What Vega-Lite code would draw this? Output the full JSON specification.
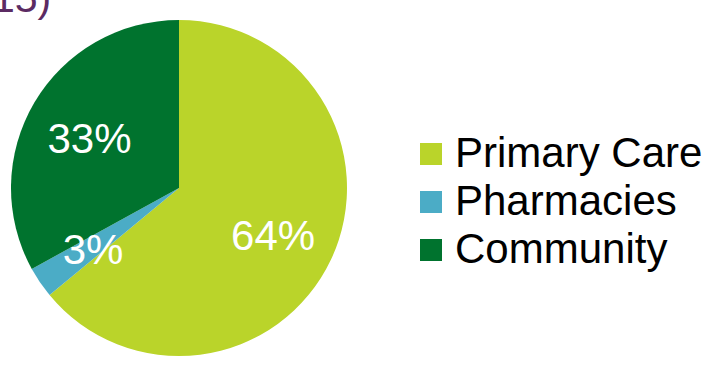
{
  "$schema": "https://vega.github.io/schema/vega-lite/v6.json",
  "width": 358,
  "height": 360,
  "autosize": {"type": "none"},
  "padding": {"left": 0, "top": 8, "right": 363, "bottom": 0},
  "background": "white",
  "title": {
    "text": "15)",
    "anchor": "start",
    "frame": "group",
    "orient": "top",
    "offset": -45,
    "baseline": "alphabetic",
    "dx": -8,
    "font": "Liberation Sans",
    "fontSize": 41,
    "fontWeight": "normal",
    "color": "#5c2b63"
  },
  "data": {
    "values": [
      {"category": "Primary Care", "share": 0.64, "rank": 1},
      {"category": "Pharmacies", "share": 0.03, "rank": 2},
      {"category": "Community", "share": 0.33, "rank": 3}
    ]
  },
  "encoding": {
    "theta": {"field": "share", "type": "quantitative", "stack": true},
    "order": {"field": "rank", "type": "quantitative"},
    "color": {
      "field": "category",
      "type": "nominal",
      "sort": ["Primary Care", "Pharmacies", "Community"],
      "scale": {
        "domain": ["Primary Care", "Pharmacies", "Community"],
        "range": ["#bad42a", "#4bacc6", "#00732e"]
      },
      "legend": {
        "title": null,
        "orient": "none",
        "legendX": 410,
        "legendY": 125,
        "symbolType": "square",
        "symbolSize": 484,
        "symbolStrokeWidth": 0,
        "labelFont": "Liberation Sans",
        "labelFontSize": 42,
        "labelColor": "#000000",
        "labelOffset": 3,
        "labelLimit": 400,
        "rowPadding": 6,
        "padding": 0
      }
    }
  },
  "layer": [
    {"mark": {"type": "arc", "outerRadius": 168}},
    {
      "mark": {
        "type": "text",
        "radius": 104,
        "dy": 5,
        "font": "Liberation Sans",
        "fontSize": 42,
        "color": "white",
        "align": "center",
        "baseline": "middle"
      },
      "encoding": {
        "text": {"field": "share", "type": "quantitative", "format": ".0%"},
        "color": {"value": "white"}
      }
    }
  ],
  "config": {"view": {"stroke": null}}
}
